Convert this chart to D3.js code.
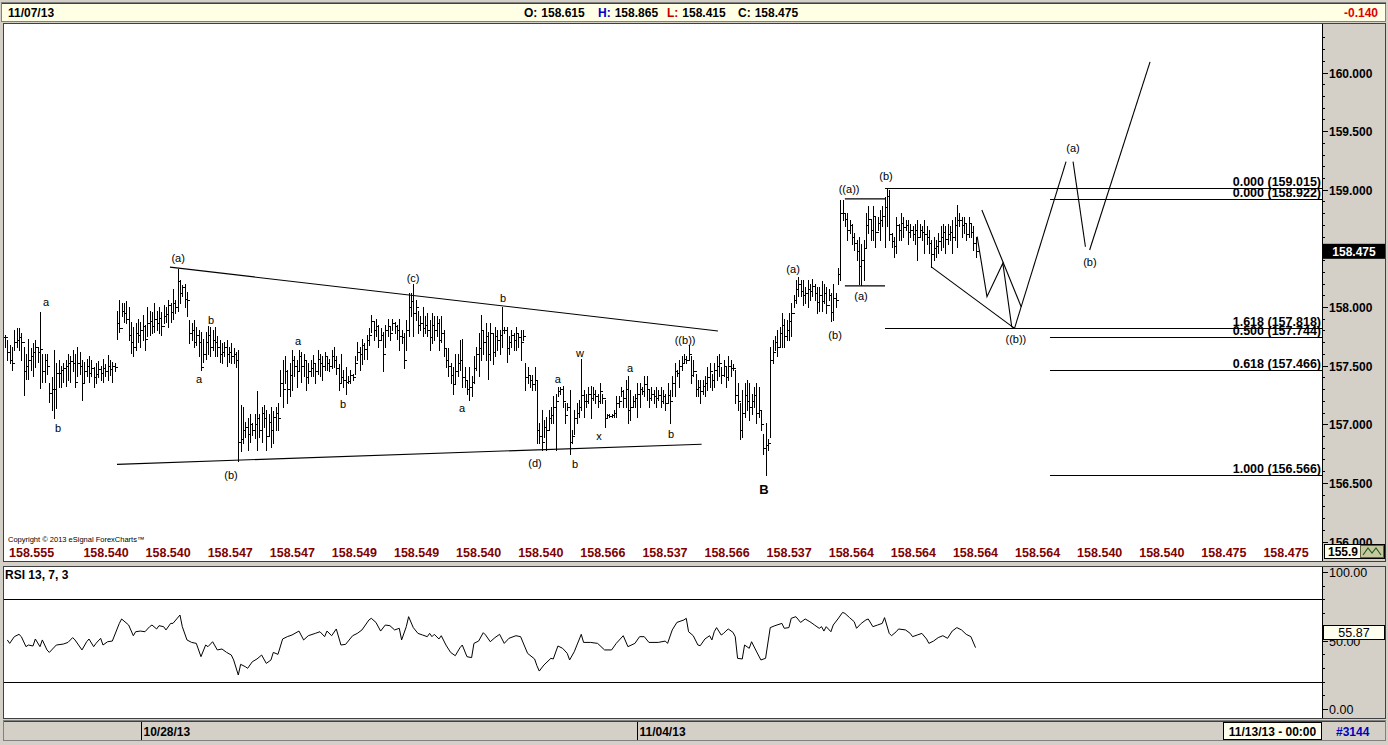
<!DOCTYPE html>
<html><head><meta charset="utf-8">
<script src="https://cdn.jsdelivr.net/npm/d3@7"></script>
<style>
html,body{margin:0;padding:0;background:#d4d0c8;overflow:hidden;}
svg{display:block;font-family:"Liberation Sans",Arial,sans-serif;}
</style></head><body>
<svg id="c" width="1388" height="745"></svg>
<script>
// ---------------- DATA ----------------
const headerDate = "11/07/13";
const headerOHLC = [["O:", "158.615", "#000"], ["H:", "158.865", "#0000c8"], ["L:", "158.415", "#c00000"], ["C:", "158.475", "#000"]];
const headerChange = "-0.140";

const barHigh = [
157.76,157.72,157.68,157.66,157.80,157.82,157.82,157.78,157.66,157.60,
157.73,157.65,157.69,157.72,157.66,157.96,157.60,157.60,157.60,157.35,
157.40,157.63,157.52,157.55,157.50,157.52,157.55,157.60,157.58,157.63,
157.60,157.66,157.62,157.55,157.53,157.56,157.58,157.55,157.49,157.52,
157.54,157.50,157.56,157.51,157.59,157.55,157.53,157.52,157.97,158.06,
158.03,158.03,158.05,158.00,157.87,157.83,157.86,157.90,157.87,157.93,
157.85,158.00,157.97,157.96,158.03,157.97,158.00,157.96,158.02,158.00,
158.06,158.03,158.15,158.06,158.32,158.23,158.19,158.20,158.13,157.89,
157.86,157.89,157.83,157.80,157.79,157.73,157.79,157.84,157.83,157.80,
157.83,157.75,157.72,157.69,157.70,157.72,157.66,157.69,157.65,157.62,
157.63,157.16,157.15,157.02,157.05,157.09,157.01,157.09,157.28,157.09,
157.15,157.16,157.12,157.09,157.15,157.11,157.15,157.18,157.46,157.55,
157.58,157.46,157.52,157.63,157.58,157.55,157.63,157.62,157.60,157.55,
157.52,157.55,157.59,157.52,157.63,157.60,157.58,157.62,157.58,157.56,
157.63,157.66,157.58,157.51,157.60,157.46,157.49,157.41,157.46,157.43,
157.58,157.70,157.66,157.73,157.69,157.76,157.82,157.93,157.87,157.90,
157.85,157.82,157.79,157.85,157.90,157.83,157.90,157.87,157.85,157.90,
157.80,157.78,157.89,158.12,158.12,158.20,158.06,157.97,157.92,158.00,
157.92,157.95,157.89,157.95,157.92,157.92,157.90,157.92,157.80,157.65,
157.65,157.52,157.49,157.60,157.60,157.72,157.73,157.49,157.38,157.49,
157.41,157.58,157.66,157.78,157.93,157.80,157.86,157.79,157.86,157.78,
157.83,157.80,157.80,158.00,157.83,157.83,157.75,157.80,157.78,157.83,
157.78,157.80,157.80,157.52,157.49,157.41,157.42,157.49,157.38,157.01,
157.12,157.04,157.06,157.12,157.15,157.24,157.26,157.32,157.32,157.33,
157.18,157.18,157.29,156.95,157.12,157.18,157.21,157.56,157.29,157.26,
157.32,157.33,157.32,157.29,157.26,157.35,157.26,157.21,157.09,157.09,
157.09,157.12,157.24,157.24,157.32,157.29,157.38,157.41,157.29,157.24,
157.26,157.35,157.35,157.32,157.41,157.41,157.29,157.32,157.29,157.32,
157.29,157.32,157.29,157.26,157.35,157.29,157.41,157.52,157.46,157.55,
157.58,157.60,157.58,157.68,157.58,157.55,157.43,157.38,157.38,157.38,
157.41,157.49,157.52,157.43,157.52,157.58,157.60,157.49,157.55,157.49,
157.58,157.55,157.51,157.46,157.35,157.18,157.29,157.35,157.38,157.35,
157.26,157.32,157.35,157.32,157.12,156.92,157.01,156.87,157.66,157.72,
157.75,157.80,157.83,157.95,157.90,157.89,157.95,158.03,158.10,158.23,
158.26,158.23,158.23,158.17,158.23,158.20,158.24,158.20,158.17,158.17,
158.22,158.20,158.17,158.15,158.12,158.20,158.12,158.33,158.91,158.91,
158.80,158.80,158.74,158.71,158.63,158.57,158.60,158.54,158.57,158.80,
158.86,158.74,158.86,158.77,158.77,158.83,158.86,158.94,159.01,159.00,
158.63,158.60,158.77,158.71,158.80,158.77,158.74,158.74,158.71,158.69,
158.71,158.74,158.71,158.69,158.74,158.69,158.66,158.57,158.60,158.57,
158.63,158.69,158.71,158.69,158.71,158.69,158.74,158.77,158.87,158.80,
158.77,158.77,158.71,158.77,158.71,158.69,158.60];

const barLow = [
157.66,157.55,157.52,157.46,157.63,157.66,157.63,157.55,157.25,157.39,
157.39,157.46,157.41,157.49,157.53,157.31,157.36,157.36,157.43,157.19,
157.12,157.05,157.14,157.32,157.32,157.36,157.33,157.38,157.36,157.45,
157.32,157.41,157.43,157.21,157.35,157.41,157.36,157.41,157.32,157.35,
157.40,157.38,157.36,157.41,157.38,157.42,157.36,157.45,157.73,157.79,
157.92,157.87,157.86,157.72,157.61,157.58,157.63,157.70,157.66,157.72,
157.63,157.75,157.76,157.78,157.79,157.80,157.78,157.76,157.86,157.87,
157.83,157.87,157.90,157.95,157.97,158.03,158.09,158.00,157.92,157.69,
157.72,157.66,157.68,157.58,157.46,157.53,157.56,157.60,157.58,157.63,
157.58,157.58,157.53,157.52,157.58,157.50,157.53,157.52,157.52,157.49,
156.69,156.77,156.84,156.89,156.78,156.85,156.91,156.88,156.78,156.89,
156.85,156.98,156.78,156.91,156.81,156.84,156.95,156.95,157.24,157.15,
157.35,157.18,157.24,157.29,157.41,157.32,157.46,157.36,157.41,157.29,
157.35,157.41,157.41,157.35,157.43,157.41,157.38,157.46,157.46,157.45,
157.48,157.49,157.43,157.29,157.35,157.32,157.26,157.35,157.35,157.38,
157.43,157.55,157.46,157.51,157.56,157.56,157.68,157.79,157.72,157.75,
157.66,157.72,157.45,157.66,157.75,157.72,157.80,157.78,157.73,157.63,
157.69,157.48,157.63,157.75,157.92,157.75,157.89,157.78,157.80,157.75,
157.78,157.75,157.63,157.69,157.72,157.75,157.63,157.70,157.58,157.49,
157.41,157.35,157.26,157.35,157.41,157.46,157.32,157.32,157.26,157.21,
157.24,157.35,157.46,157.41,157.55,157.60,157.55,157.39,157.55,157.51,
157.58,157.63,157.60,157.66,157.78,157.53,157.60,157.66,157.63,157.63,
157.66,157.55,157.72,157.29,157.35,157.32,157.29,157.29,156.84,156.84,
156.78,156.89,156.78,156.95,157.01,157.01,156.78,157.24,157.26,157.15,
157.01,157.12,156.75,156.84,156.92,157.01,157.06,157.12,157.06,157.15,
157.18,157.05,157.21,157.18,157.15,157.18,157.18,156.98,157.06,157.06,
157.06,157.06,157.06,157.15,157.24,157.15,157.15,157.01,157.04,157.15,
157.15,157.06,157.15,157.26,157.24,157.21,157.15,157.21,157.18,157.15,
157.21,157.15,157.18,157.12,157.18,157.01,157.24,157.24,157.41,157.32,
157.46,157.52,157.52,157.55,157.35,157.41,157.24,157.24,157.18,157.26,
157.24,157.29,157.32,157.29,157.32,157.38,157.41,157.35,157.41,157.32,
157.38,157.41,157.46,157.18,157.12,156.87,156.89,157.06,157.12,157.04,
157.09,157.15,157.01,157.06,156.95,156.75,156.57,156.78,156.89,157.52,
157.63,157.58,157.66,157.66,157.66,157.72,157.72,157.75,158.00,158.03,
158.09,158.09,158.02,158.03,158.00,158.06,158.09,158.06,157.95,157.97,
157.97,158.03,157.95,158.06,157.88,157.89,158.00,158.20,158.23,158.74,
158.69,158.57,158.63,158.54,158.49,158.40,158.20,158.19,158.23,158.51,
158.63,158.57,158.57,158.51,158.66,158.57,158.69,158.51,158.69,158.57,
158.51,158.43,158.46,158.57,158.57,158.60,158.66,158.54,158.60,158.57,
158.54,158.40,158.60,158.57,158.46,158.54,158.46,158.34,158.40,158.43,
158.46,158.49,158.51,158.46,158.54,158.57,158.46,158.57,158.51,158.69,
158.60,158.63,158.57,158.60,158.60,158.49,158.43];

const barClose = [
157.74,157.62,157.55,157.52,157.70,157.72,157.74,157.70,157.45,157.50,
157.55,157.58,157.62,157.66,157.62,157.64,157.45,157.55,157.50,157.27,
157.30,157.30,157.44,157.44,157.46,157.48,157.50,157.52,157.54,157.52,
157.36,157.52,157.50,157.35,157.45,157.50,157.44,157.48,157.40,157.43,
157.47,157.44,157.48,157.45,157.50,157.47,157.50,157.49,157.86,157.82,
157.97,157.95,157.90,157.76,157.70,157.66,157.78,157.76,157.80,157.84,
157.73,157.86,157.88,157.84,157.90,157.86,157.91,157.84,157.92,157.94,
158.02,157.96,158.03,158.00,158.22,158.12,158.17,158.07,158.06,157.78,
157.80,157.70,157.76,157.70,157.49,157.60,157.70,157.76,157.66,157.72,
157.70,157.66,157.60,157.62,157.66,157.60,157.62,157.58,157.60,157.55,
156.85,156.87,156.95,156.98,156.92,157.00,156.95,157.00,157.05,156.95,
157.10,157.05,156.90,157.02,156.95,157.06,157.10,157.05,157.35,157.30,
157.45,157.30,157.42,157.55,157.50,157.45,157.58,157.50,157.55,157.40,
157.45,157.48,157.52,157.45,157.56,157.52,157.50,157.58,157.52,157.50,
157.58,157.55,157.48,157.35,157.40,157.38,157.36,157.37,157.42,157.40,
157.52,157.62,157.60,157.68,157.64,157.72,157.76,157.88,157.80,157.84,
157.72,157.76,157.60,157.80,157.84,157.78,157.86,157.84,157.80,157.75,
157.74,157.55,157.80,158.00,158.05,157.95,158.00,157.85,157.86,157.82,
157.85,157.80,157.74,157.85,157.80,157.86,157.72,157.78,157.65,157.55,
157.50,157.42,157.34,157.45,157.52,157.55,157.40,157.38,157.30,157.32,
157.36,157.48,157.60,157.65,157.80,157.70,157.75,157.60,157.78,157.62,
157.75,157.72,157.76,157.80,157.80,157.65,157.70,157.76,157.72,157.78,
157.74,157.70,157.75,157.40,157.42,157.38,157.34,157.38,156.95,156.90,
156.85,156.98,156.95,157.05,157.08,157.15,157.20,157.28,157.30,157.20,
157.08,157.15,156.85,156.90,157.05,157.10,157.15,157.25,157.20,157.20,
157.26,157.22,157.26,157.24,157.20,157.28,157.22,157.05,157.08,157.07,
157.08,157.10,157.18,157.20,157.28,157.22,157.30,157.12,157.15,157.20,
157.22,157.26,157.30,157.28,157.34,157.30,157.22,157.26,157.24,157.22,
157.25,157.20,157.24,157.18,157.25,157.20,157.35,157.45,157.44,157.50,
157.52,157.56,157.55,157.60,157.42,157.45,157.30,157.32,157.28,157.33,
157.35,157.40,157.45,157.38,157.46,157.50,157.52,157.42,157.50,157.40,
157.50,157.48,157.48,157.25,157.20,156.95,157.10,157.25,157.20,157.15,
157.20,157.25,157.10,157.12,157.00,156.80,156.82,156.84,157.55,157.62,
157.70,157.66,157.78,157.85,157.75,157.80,157.88,157.95,158.06,158.15,
158.20,158.14,158.10,158.12,158.15,158.14,158.18,158.12,158.04,158.10,
158.05,158.12,158.02,158.10,157.96,158.08,158.06,158.28,158.80,158.80,
158.75,158.66,158.70,158.60,158.55,158.48,158.35,158.40,158.50,158.70,
158.75,158.66,158.78,158.64,158.72,158.74,158.78,158.85,158.95,158.62,
158.56,158.52,158.70,158.66,158.72,158.68,158.70,158.64,158.66,158.62,
158.66,158.60,158.66,158.64,158.62,158.60,158.55,158.45,158.50,158.52,
158.56,158.60,158.64,158.58,158.62,158.64,158.60,158.70,158.74,158.74,
158.70,158.72,158.62,158.72,158.64,158.55,158.475];

// RSI(13,7,3) vertices: bar index and value
const rsiIdx = [1,2,4,6,7,9,10,12,13,15,16,18,19,20,22,25,27,29,30,33,35,36,38,39,41,42,44,46,49,50,53,55,56,58,60,62,63,65,66,68,69,71,72,75,76,78,80,82,84,86,87,89,91,93,95,97,98,100,101,103,104,106,108,110,112,114,115,117,119,121,123,126,128,130,133,135,137,138,140,142,144,146,149,151,153,156,157,159,161,163,165,167,169,170,172,173,175,177,179,181,182,183,184,186,187,189,191,193,195,196,198,200,201,203,205,206,208,210,212,214,216,219,221,224,227,228,229,231,234,235,237,239,241,242,244,247,248,251,254,257,260,262,265,267,270,272,274,276,280,283,284,286,288,291,292,293,295,297,298,300,302,303,304,305,307,308,309,310,312,313,314,316,317,319,320,322,324,326,328,330,333,334,336,337,339,341,343,345,347,349,350,351,352,354,355,357,359,360,362,364,365,367,369,370,372,374,376,377,379,380,382,383,386,388,389,391,393,395,396,398,400,402,404,406,408,410,412,414,416];
const rsiVal = [50.4,47.9,52.8,54.5,52.8,45.5,46.7,46.0,51.1,45.5,50.4,43.1,41.3,43.1,46.7,47.4,48.6,52.1,50.4,43.1,49.1,51.1,45.5,47.9,51.6,46.7,49.1,49.6,62.5,65.7,61.3,53.5,56.4,56.9,56.4,60.1,61.3,58.4,60.8,60.1,57.7,62.5,62.5,68.6,60.1,50.4,48.6,47.9,38.2,46.7,45.5,49.1,43.1,43.8,41.3,39.4,35.8,24.8,32.6,30.9,29.7,34.5,36.5,39.4,33.3,35.8,41.3,39.9,51.1,52.8,54.0,56.9,50.4,53.5,55.2,56.4,52.8,56.9,53.5,58.4,46.7,47.2,53.5,55.2,57.7,65.0,66.2,63.2,56.9,61.3,60.8,57.7,58.9,50.4,60.1,67.4,59.4,55.2,54.0,52.8,55.2,52.8,54.5,51.1,53.5,46.7,41.3,38.9,44.7,46.7,38.2,37.5,47.9,49.6,55.7,54.0,49.1,52.1,54.5,47.9,51.6,53.5,52.8,40.6,36.5,31.6,27.7,32.1,37.0,36.5,46.0,44.3,40.6,35.8,41.8,54.5,48.6,48.6,47.9,43.1,43.1,47.9,53.5,45.5,47.9,52.8,52.8,48.6,48.6,49.6,47.9,57.7,63.2,65.0,66.2,56.4,53.5,46.7,46.2,51.1,53.5,50.4,56.4,59.4,54.0,55.2,56.9,58.4,56.0,52.8,37.0,36.5,46.7,44.3,49.1,42.3,35.8,37.0,59.4,60.8,62.5,58.9,59.4,66.2,67.4,63.2,65.7,63.7,61.3,58.9,60.1,56.9,60.1,56.4,61.3,65.7,70.5,69.8,66.7,63.7,58.9,62.5,65.0,65.7,60.1,61.3,62.5,66.7,55.2,53.5,56.4,58.4,57.7,55.2,52.8,54.0,55.2,51.1,47.9,49.6,52.1,53.5,51.6,56.9,59.4,57.7,54.5,52.8,44.8];
const rsiLast = 55.87;
const rsiLevels = [80, 20];
const rsiTicks = [100, 50, 0];

const priceTicks = [156.0, 156.5, 157.0, 157.5, 158.0, 158.5, 159.0, 159.5, 160.0];
const lastPrice = 158.475;

// bottom row labels inside price pane
const bottomLabels = ["158.555","158.540","158.540","158.547","158.547","158.549","158.549","158.540","158.540","158.566","158.537","158.566","158.537","158.564","158.564","158.564","158.564","158.540","158.540","158.475","158.475"];

// date ticks (bar index, label)
const dateTicks = [[58.3, "10/28/13"], [270.9, "11/04/13"]];

// Fibonacci levels: [price, label, startIndex]
const fibLevels = [
  [159.015, "0.000 (159.015)", 377.2],
  [158.922, "0.000 (158.922)", 447.7],
  [157.818, "1.618 (157.818)", 377.2],
  [157.744, "0.500 (157.744)", 447.7],
  [157.466, "0.618 (157.466)", 447.7],
  [156.566, "1.000 (156.566)", 447.7]
];

// trend lines and wave projections, in [barIndex, price]
const trendLines = [
  [[70.7, 158.34], [305.6, 157.795]],
  [[48.0, 156.658], [298.6, 156.83]],
  [[360.0, 158.922], [377.2, 158.922]],
  [[360.0, 158.18], [377.2, 158.18]],
  [[396.9, 158.344], [432.7, 157.818]],
  [[418.7, 158.827], [435.6, 158.00]],
  [[416.7, 158.60], [420.9, 158.088], [427.7, 158.373], [431.5, 157.832], [432.7, 157.818]],
  [[432.7, 157.818], [454.8, 159.24]],
  [[457.8, 159.24], [463.1, 158.514]],
  [[464.9, 158.486], [490.8, 160.09]]
];

// wave labels [barIndex, price, text]
const waveLabels = [
  [17.6, 158.04, "a"], [22.7, 156.97, "b"], [74.2, 158.42, "(a)"], [88.3, 157.89, "b"],
  [83.2, 157.39, "a"], [96.9, 156.57, "(b)"], [125.6, 157.71, "a"], [144.9, 157.17, "b"],
  [174.9, 158.25, "(c)"], [213.5, 158.08, "b"], [195.9, 157.14, "a"], [227.2, 156.67, "(d)"],
  [237.0, 157.39, "a"], [244.3, 156.66, "b"], [246.5, 157.61, "w"], [254.6, 156.90, "x"],
  [267.9, 157.48, "a"], [285.5, 156.92, "b"], [291.5, 157.72, "((b))"],
  [337.8, 158.32, "(a)"], [355.8, 157.76, "(b)"], [361.8, 159.01, "((a))"], [366.9, 158.09, "(a)"],
  [377.6, 159.12, "(b)"], [433.3, 157.73, "((b))"], [457.8, 159.36, "(a)"], [465.0, 158.38, "(b)"]
];
const bigLabels = [[325.3, 156.45, "B"]];

// ---------------- DRAW ----------------
const svg = d3.select("#c");
const GRAY = "#d4d0c8";
svg.append("rect").attr("width", 1388).attr("height", 745).attr("fill", GRAY);

const xS = d3.scaleLinear().domain([0, 564.5]).range([5, 1322]);
const yS = d3.scaleLinear().domain([156, 160]).range([541.5, 72.5]);
const rS = d3.scaleLinear().domain([0, 100]).range([709, 572]);

// header
svg.append("rect").attr("x", 1.5).attr("y", 2.5).attr("width", 1384).attr("height", 19)
  .attr("fill", "#ffffe6").attr("stroke", "#808080");
svg.append("line").attr("x1", 2).attr("x2", 1386).attr("y1", 3.5).attr("y2", 3.5).attr("stroke", "#404040");
svg.append("text").attr("x", 8).attr("y", 16.5).attr("font-size", 12).attr("font-weight", "bold").text(headerDate);
const hx = [524, 598, 667, 738];
headerOHLC.forEach((d, i) => {
  const t = svg.append("text").attr("x", hx[i]).attr("y", 16.5).attr("font-size", 12).attr("font-weight", "bold");
  t.append("tspan").attr("fill", d[2]).text(d[0]);
  t.append("tspan").attr("fill", "#000").attr("dx", 4).text(d[1]);
});
svg.append("text").attr("x", 1378).attr("y", 16.5).attr("font-size", 12).attr("font-weight", "bold")
  .attr("text-anchor", "end").attr("fill", "#e00000").text(headerChange);

// main pane
svg.append("rect").attr("x", 3.5).attr("y", 23.5).attr("width", 1382).attr("height", 538)
  .attr("fill", "#fff").attr("stroke", "#404040");
svg.append("rect").attr("x", 1323).attr("y", 24).attr("width", 62).attr("height", 537).attr("fill", GRAY);
svg.append("line").attr("x1", 1322.5).attr("x2", 1322.5).attr("y1", 24).attr("y2", 561).attr("stroke", "#000");

const defs = svg.append("defs");
defs.append("clipPath").attr("id", "pclip").append("rect").attr("x", 4).attr("y", 24).attr("width", 1318).attr("height", 537);
defs.append("clipPath").attr("id", "rclip").append("rect").attr("x", 4).attr("y", 567).attr("width", 1318).attr("height", 151);

const pg = svg.append("g").attr("clip-path", "url(#pclip)");

// bars
const n = Math.min(barHigh.length, barLow.length, barClose.length);
const bars = d3.range(n).map(i => ({i, h: barHigh[i], l: barLow[i], c: barClose[i], o: i > 0 ? barClose[i - 1] : barClose[i]}));
const bg = pg.append("g").attr("stroke", "#000").attr("stroke-width", 1).attr("shape-rendering", "crispEdges");
bars.forEach(b => {
  const x = Math.round(xS(b.i)) + 0.5;
  bg.append("line").attr("x1", x).attr("x2", x).attr("y1", Math.round(yS(b.h))).attr("y2", Math.round(yS(b.l)) + 1);
  const yc = Math.round(yS(b.c)) + 0.5, yo = Math.round(yS(b.o)) + 0.5;
  bg.append("line").attr("x1", x).attr("x2", x + 2).attr("y1", yc).attr("y2", yc);
  bg.append("line").attr("x1", x - 2).attr("x2", x).attr("y1", yo).attr("y2", yo);
});

// trend lines & projections
const lineGen = d3.line().x(d => xS(d[0])).y(d => yS(d[1]));
pg.append("g").selectAll("path").data(trendLines).join("path")
  .attr("d", lineGen).attr("fill", "none").attr("stroke", "#000").attr("stroke-width", 1.1);

// fib levels
fibLevels.forEach(f => {
  const y = Math.round(yS(f[0])) + 0.5;
  pg.append("line").attr("x1", xS(f[2])).attr("x2", 1322).attr("y1", y).attr("y2", y)
    .attr("stroke", "#000").attr("shape-rendering", "crispEdges");
  pg.append("text").attr("x", 1321).attr("y", y - 2.5).attr("text-anchor", "end")
    .attr("font-size", 12.5).attr("font-weight", "bold").attr("fill", "#000").text(f[1]);
});

// wave labels
pg.append("g").selectAll("text").data(waveLabels).join("text")
  .attr("x", d => xS(d[0])).attr("y", d => yS(d[1]) + 4).attr("text-anchor", "middle")
  .attr("font-size", 11).attr("fill", "#000").text(d => d[2]);
pg.append("g").selectAll("text").data(bigLabels).join("text")
  .attr("x", d => xS(d[0])).attr("y", d => yS(d[1]) + 5).attr("text-anchor", "middle")
  .attr("font-size", 13).attr("font-weight", "bold").attr("fill", "#000").text(d => d[2]);

// copyright + bottom row labels
svg.append("text").attr("x", 8).attr("y", 541.5).attr("font-size", 7.5).attr("fill", "#000")
  .text("Copyright \u00a9 2013 eSignal ForexCharts\u2122");
bottomLabels.forEach((t, k) => {
  const el = svg.append("text").attr("y", 557).attr("font-size", 12.5).attr("font-weight", "bold").attr("fill", "#800000").text(t);
  if (k === 0) el.attr("x", 9);
  else el.attr("x", xS(43.3 + 26.62 * (k - 1))).attr("text-anchor", "middle");
});

// price axis
const pax = svg.append("g");
d3.range(156, 160.301, 0.1).forEach(v => {
  const y = Math.round(yS(v)) + 0.5;
  if (y > 26 && y < 560) pax.append("line").attr("x1", 1323).attr("x2", 1325).attr("y1", y).attr("y2", y).attr("stroke", "#000").attr("shape-rendering", "crispEdges");
});
priceTicks.forEach(v => {
  const y = Math.round(yS(v)) + 0.5;
  pax.append("line").attr("x1", 1323).attr("x2", 1328).attr("y1", y).attr("y2", y).attr("stroke", "#000").attr("shape-rendering", "crispEdges");
  // the last-price box hides the label it sits on
  if (Math.abs(yS(v) - yS(lastPrice)) > 12)
    pax.append("text").attr("x", 1329).attr("y", y + 4.5).attr("font-size", 12).attr("font-weight", "bold").text(d3.format(".3f")(v));
});
{
  const y = yS(lastPrice);
  pax.append("rect").attr("x", 1323).attr("y", y - 7.5).attr("width", 62).attr("height", 15).attr("fill", "#000");
  pax.append("text").attr("x", 1354).attr("y", y + 4.5).attr("text-anchor", "middle").attr("font-size", 12)
    .attr("font-weight", "bold").attr("fill", "#fff").text(d3.format(".3f")(lastPrice));
}
// bottom-right mini box
pax.append("rect").attr("x", 1324.5).attr("y", 544.5).attr("width", 60).attr("height", 14).attr("fill", "#fffff0").attr("stroke", "#000");
pax.append("text").attr("x", 1328).attr("y", 556).attr("font-size", 12).attr("font-weight", "bold").text("155.9");
pax.append("rect").attr("x", 1360.5).attr("y", 545.5).attr("width", 23).attr("height", 12).attr("fill", "#c8c8a0").attr("stroke", "#606040");
pax.append("path").attr("d", "M1363,555 L1368,548 L1372,553 L1376,548 L1381,555").attr("fill", "none").attr("stroke", "#206020").attr("stroke-width", 1.2);

// RSI pane
svg.append("rect").attr("x", 3.5).attr("y", 566.5).attr("width", 1382).attr("height", 152)
  .attr("fill", "#fff").attr("stroke", "#404040");
svg.append("rect").attr("x", 1323).attr("y", 567).attr("width", 62).attr("height", 151).attr("fill", GRAY);
svg.append("line").attr("x1", 1322.5).attr("x2", 1322.5).attr("y1", 567).attr("y2", 718).attr("stroke", "#000");
const rg = svg.append("g").attr("clip-path", "url(#rclip)");
rsiLevels.forEach(v => {
  const y = Math.round(rS(v)) + 0.5;
  rg.append("line").attr("x1", 4).attr("x2", 1322).attr("y1", y).attr("y2", y).attr("stroke", "#000").attr("shape-rendering", "crispEdges");
});
rg.append("path").datum(d3.range(Math.min(rsiIdx.length, rsiVal.length)).map(k => [rsiIdx[k], rsiVal[k]]))
  .attr("d", d3.line().x(d => xS(d[0])).y(d => rS(d[1]))).attr("fill", "none").attr("stroke", "#000").attr("stroke-width", 1);
svg.append("text").attr("x", 5).attr("y", 579).attr("font-size", 12).attr("font-weight", "bold").text("RSI 13, 7, 3");
d3.range(0, 100.1, 10).forEach(v => {
  const y = Math.round(rS(v)) + 0.5;
  svg.append("line").attr("x1", 1323).attr("x2", 1325).attr("y1", y).attr("y2", y).attr("stroke", "#000").attr("shape-rendering", "crispEdges");
});
rsiTicks.forEach(v => {
  const y = Math.round(rS(v)) + 0.5;
  svg.append("line").attr("x1", 1323).attr("x2", 1328).attr("y1", y).attr("y2", y).attr("stroke", "#000").attr("shape-rendering", "crispEdges");
  svg.append("text").attr("x", 1329).attr("y", y + 4.5).attr("font-size", 12.5).text(d3.format(".2f")(v));
});
{
  const y = rS(rsiLast);
  svg.append("rect").attr("x", 1323.5).attr("y", Math.round(y - 7) + 0.5).attr("width", 61).attr("height", 14).attr("fill", "#fffff0").attr("stroke", "#000");
  svg.append("text").attr("x", 1354).attr("y", y + 4.5).attr("text-anchor", "middle").attr("font-size", 12.5).text(d3.format(".2f")(rsiLast));
}

// date bar
svg.append("rect").attr("x", 3.5).attr("y", 720.5).attr("width", 1382).attr("height", 20).attr("fill", GRAY).attr("stroke", "#808080");
svg.append("line").attr("x1", 4).attr("x2", 1385).attr("y1", 721.5).attr("y2", 721.5).attr("stroke", "#404040");
dateTicks.forEach(d => {
  const x = Math.round(xS(d[0])) + 0.5;
  svg.append("line").attr("x1", x).attr("x2", x).attr("y1", 722).attr("y2", 740).attr("stroke", "#000");
  svg.append("text").attr("x", x + 2).attr("y", 735.5).attr("font-size", 12).attr("font-weight", "bold").text(d[1]);
});
svg.append("rect").attr("x", 1223.5).attr("y", 722.5).attr("width", 98).attr("height", 17).attr("fill", "#fffff0").attr("stroke", "#000");
svg.append("text").attr("x", 1272.5).attr("y", 735.5).attr("text-anchor", "middle").attr("font-size", 12).attr("font-weight", "bold").text("11/13/13 - 00:00");
svg.append("text").attr("x", 1336).attr("y", 735.5).attr("font-size", 12).attr("font-weight", "bold").attr("fill", "#0000c0").text("#3144");
</script>
</body></html>
